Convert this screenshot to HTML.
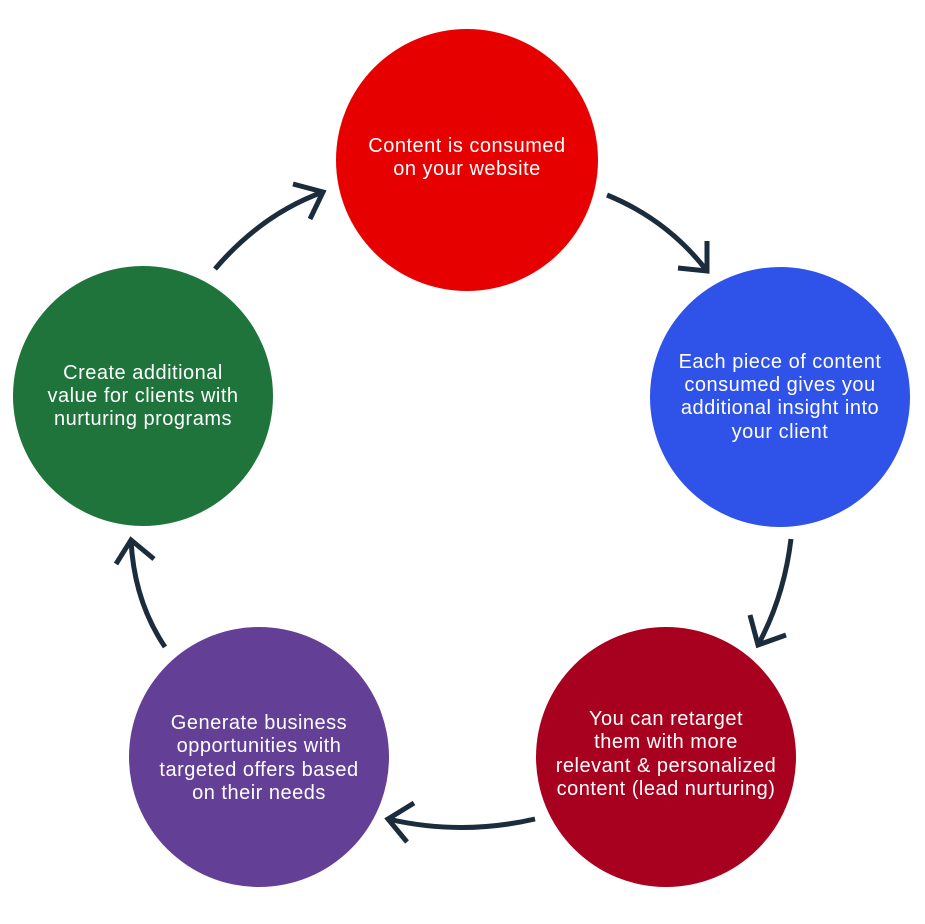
<!DOCTYPE html>
<html>
<head>
<meta charset="utf-8">
<style>
html,body{margin:0;padding:0;background:#fff;}
svg{display:block;}
text{font-family:"Liberation Sans",sans-serif;font-size:20px;fill:#fff;letter-spacing:0.5px;}
</style>
</head>
<body>
<svg width="925" height="924" viewBox="0 0 925 924" xmlns="http://www.w3.org/2000/svg">
  <circle cx="467" cy="160" r="131" fill="#e60000"/>
  <circle cx="780" cy="397" r="130" fill="#2f52e8"/>
  <circle cx="666" cy="757" r="130" fill="#a8001f"/>
  <circle cx="259" cy="757" r="130" fill="#633f96"/>
  <circle cx="143" cy="396" r="130" fill="#1e743b"/>

  <g fill="none" stroke="#1b2d3d" stroke-width="5" stroke-linecap="butt" stroke-linejoin="miter">
    <path d="M215,269 Q262,214 323,192"/>
    <path d="M293,184 L323,192 L310,219"/>
    <path d="M607,195 Q668,220 707,271"/>
    <path d="M707,241 L707,271 L678,268"/>
    <path d="M791,539 Q784,597 758,645"/>
    <path d="M750,615 L758,645 L786,635"/>
    <path d="M535,819 Q461,836 388,819"/>
    <path d="M414,803 L388,819 L407,842"/>
    <path d="M165,647 Q134,601 131,540"/>
    <path d="M116,564 L131,540 L154,559"/>
  </g>

  <g text-anchor="middle">
    <text x="467" y="152">Content is consumed</text>
    <text x="467" y="175">on your website</text>

    <text x="780" y="368">Each piece of content</text>
    <text x="780" y="391">consumed gives you</text>
    <text x="780" y="414">additional insight into</text>
    <text x="780" y="438">your client</text>

    <text x="666" y="725">You can retarget</text>
    <text x="666" y="748">them with more</text>
    <text x="666" y="772">relevant &amp; personalized</text>
    <text x="666" y="795">content (lead nurturing)</text>

    <text x="259" y="729">Generate business</text>
    <text x="259" y="752">opportunities with</text>
    <text x="259" y="776">targeted offers based</text>
    <text x="259" y="799">on their needs</text>

    <text x="143" y="379">Create additional</text>
    <text x="143" y="402">value for clients with</text>
    <text x="143" y="425">nurturing programs</text>
  </g>
</svg>
</body>
</html>
